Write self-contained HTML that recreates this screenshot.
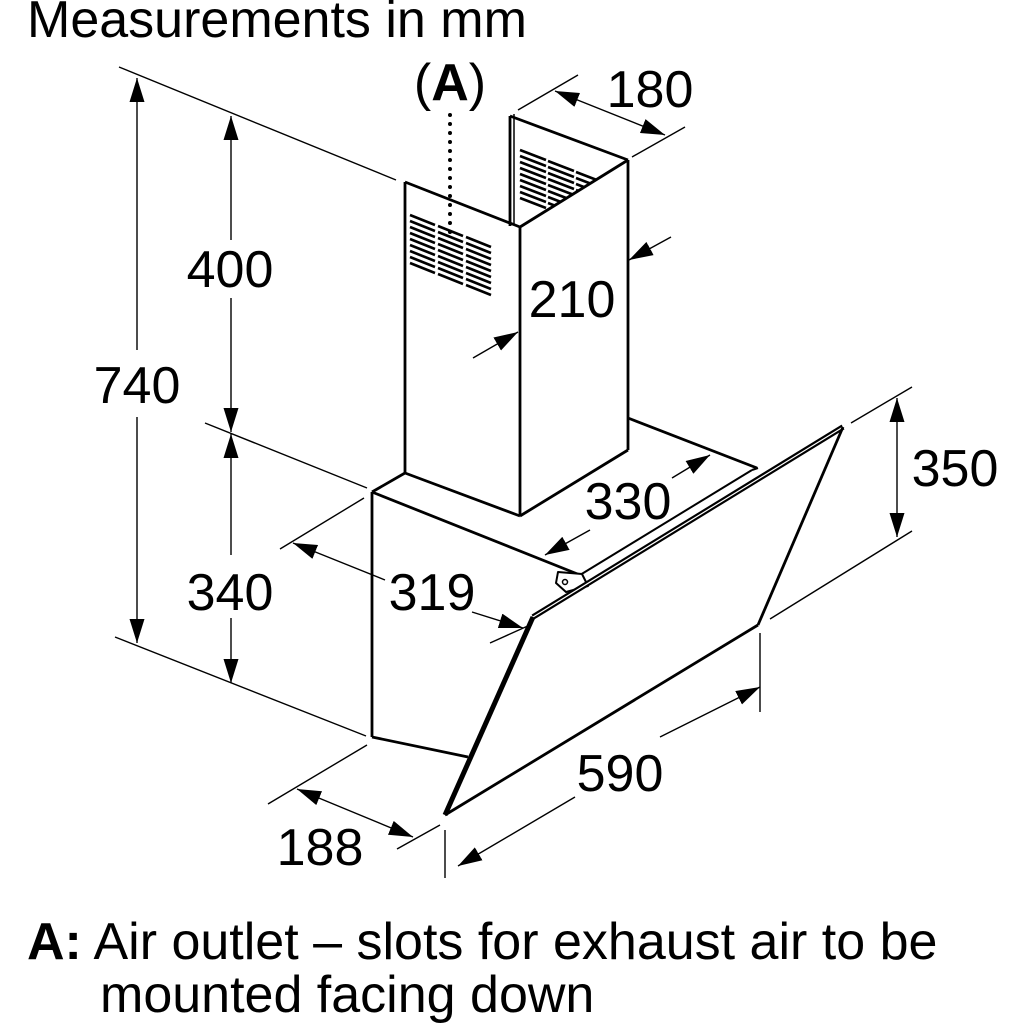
<!DOCTYPE html>
<html><head><meta charset="utf-8"><style>
html,body{margin:0;padding:0;background:#fff;}
svg{display:block;}
text{font-family:"Liberation Sans",Arial,sans-serif;fill:#000;}
</style></head><body>
<svg width="1024" height="1024" viewBox="0 0 1024 1024" xmlns="http://www.w3.org/2000/svg">
<defs>
<marker id="ar" viewBox="0 0 24 15" refX="24" refY="7.5" markerWidth="24" markerHeight="15" markerUnits="userSpaceOnUse" orient="auto-start-reverse">
<path d="M0,0 L24,7.5 L0,15 z" fill="#000"/>
</marker>
<clipPath id="backclip"><polygon points="512,114 628,160 520,227 512,227"/></clipPath>
</defs>

<text x="27" y="37" font-size="52">Measurements in mm</text>

<g stroke="#000" stroke-width="1.4" fill="none">
<line x1="119" y1="67" x2="396" y2="180"/>
<line x1="115" y1="637" x2="366" y2="736"/>
<line x1="205" y1="423" x2="367" y2="488"/>
<line x1="280" y1="549" x2="364" y2="498"/>
<line x1="490" y1="643" x2="530" y2="625"/>
<line x1="268" y1="804" x2="367" y2="745"/>
<line x1="397" y1="849" x2="440" y2="825"/>
<line x1="445" y1="830" x2="445" y2="878"/>
<line x1="760" y1="633" x2="760" y2="712"/>
<line x1="851" y1="423" x2="912" y2="387"/>
<line x1="770" y1="619" x2="912" y2="531"/>
<line x1="518" y1="110" x2="578" y2="75"/>
<line x1="632" y1="157" x2="685" y2="127"/>

<line x1="137" y1="78" x2="137" y2="350" marker-start="url(#ar)"/>
<line x1="137" y1="417" x2="137" y2="643" marker-end="url(#ar)"/>
<line x1="231" y1="116" x2="231" y2="240" marker-start="url(#ar)"/>
<line x1="231" y1="298" x2="231" y2="432" marker-end="url(#ar)"/>
<line x1="231" y1="434" x2="231" y2="555" marker-start="url(#ar)"/>
<line x1="231" y1="618" x2="231" y2="683" marker-end="url(#ar)"/>
<line x1="293" y1="543" x2="385" y2="580" marker-start="url(#ar)"/>
<line x1="472" y1="612" x2="523" y2="628" marker-end="url(#ar)"/>
<line x1="297" y1="789" x2="413" y2="837" marker-start="url(#ar)" marker-end="url(#ar)"/>
<line x1="458" y1="866" x2="575" y2="797" marker-start="url(#ar)"/>
<line x1="660" y1="737" x2="760" y2="687" marker-end="url(#ar)"/>
<line x1="897" y1="398" x2="897" y2="537" marker-start="url(#ar)" marker-end="url(#ar)"/>
<line x1="555" y1="91" x2="665" y2="135" marker-start="url(#ar)" marker-end="url(#ar)"/>
<line x1="671" y1="237" x2="629" y2="260" marker-end="url(#ar)"/>
<line x1="473" y1="358" x2="518" y2="332" marker-end="url(#ar)"/>
<line x1="672" y1="478" x2="710" y2="455" marker-end="url(#ar)"/>
<line x1="590" y1="530" x2="545" y2="555" marker-end="url(#ar)"/>
</g>

<line x1="450" y1="115" x2="450" y2="236" stroke="#000" stroke-width="4" stroke-dasharray="0 9" stroke-linecap="round"/>

<g stroke="#000" stroke-width="2.8" fill="none" stroke-linejoin="round">
<g clip-path="url(#backclip)" stroke-width="2.6">
<g id="bv">
<line x1="520" y1="150" x2="546" y2="160"/><line x1="520" y1="156" x2="546" y2="166"/><line x1="520" y1="162" x2="546" y2="172"/><line x1="520" y1="168" x2="546" y2="178"/><line x1="520" y1="174" x2="546" y2="184"/><line x1="520" y1="180" x2="546" y2="190"/><line x1="520" y1="186" x2="546" y2="196"/><line x1="520" y1="192" x2="546" y2="202"/><line x1="520" y1="198" x2="546" y2="208"/>
</g>
<use href="#bv" x="28" y="11"/>
<use href="#bv" x="56" y="22"/>
</g>
<line x1="510" y1="116" x2="510" y2="226"/>
<line x1="514" y1="114" x2="514" y2="224" stroke-width="1.5"/>
<line x1="510" y1="116" x2="628" y2="160"/>
<line x1="405" y1="182" x2="520" y2="227"/>
<line x1="520" y1="227" x2="628" y2="160"/>
<line x1="405" y1="182" x2="405" y2="473"/>
<line x1="520" y1="227" x2="520" y2="516"/>
<line x1="628" y1="160" x2="628" y2="450"/>
<line x1="405" y1="473" x2="520" y2="516"/>
<line x1="520" y1="516" x2="628" y2="450"/>
<g stroke-width="2.6">
<g id="lv">
<line x1="410" y1="215" x2="435" y2="225"/><line x1="410" y1="221" x2="435" y2="231"/><line x1="410" y1="227" x2="435" y2="237"/><line x1="410" y1="233" x2="435" y2="243"/><line x1="410" y1="239" x2="435" y2="249"/><line x1="410" y1="245" x2="435" y2="255"/><line x1="410" y1="251" x2="435" y2="261"/><line x1="410" y1="257" x2="435" y2="267"/><line x1="410" y1="263" x2="435" y2="273"/>
</g>
<use href="#lv" x="28" y="11"/>
<use href="#lv" x="56" y="22"/>
</g>

<line x1="372" y1="492" x2="405" y2="473"/>
<line x1="372" y1="492" x2="580" y2="575"/>
<line x1="372" y1="492" x2="372" y2="737"/>
<line x1="372" y1="737" x2="468" y2="757"/>
<line x1="628" y1="418" x2="757" y2="468"/>
<line x1="580" y1="575" x2="752" y2="470" stroke-width="2"/>
<line x1="752" y1="470" x2="758" y2="468" stroke-width="2"/>
<polygon points="558,572 582,574 588,586 566,592 556,583" fill="#fff" stroke-width="2"/>
<circle cx="565" cy="582" r="2.5" stroke-width="1.5"/>

<line x1="533" y1="617" x2="843" y2="427" stroke-width="5.5"/>
<line x1="533" y1="617" x2="843" y2="427" stroke="#fff" stroke-width="1.2"/>
<line x1="533" y1="617" x2="445" y2="815" stroke-width="5"/>
<line x1="843" y1="427" x2="758" y2="625"/>
<line x1="445" y1="815" x2="758" y2="625"/>
</g>

<g font-size="52" text-anchor="middle">
<text x="137" y="403">740</text>
<text x="230" y="287">400</text>
<text x="230" y="610">340</text>
<text x="432" y="610">319</text>
<text x="320" y="865">188</text>
<text x="620" y="791">590</text>
<text x="955" y="486">350</text>
<text x="572" y="317">210</text>
<text x="628" y="519">330</text>
<text x="650" y="107">180</text>
<text x="450" y="100">(<tspan font-weight="bold">A</tspan>)</text>
</g>

<text x="27" y="959" font-size="52"><tspan font-weight="bold">A:</tspan> Air outlet – slots for exhaust air to be</text>
<text x="100" y="1012" font-size="52">mounted facing down</text>
</svg>
</body></html>
